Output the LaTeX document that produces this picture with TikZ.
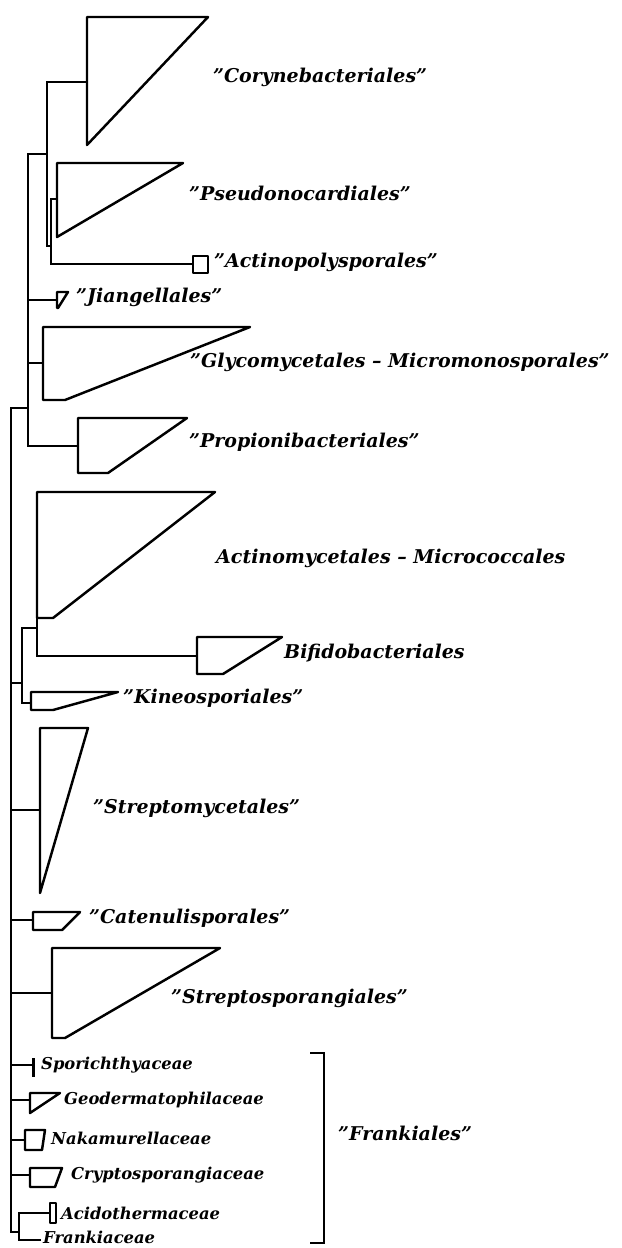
\documentclass[tikz,border=0pt]{standalone}
\usepackage{fontspec}
\setmainfont{DejaVu Serif}
% collapsed clade: left x, top y, bottom y, top right x, bottom right x
\newcommand\clade[5]{\draw[cladeshape] (#1,#2) -- (#4,#2) -- (#5,#3) -- (#1,#3) -- cycle;}

\begin{document}
\begin{tikzpicture}[x=0.02cm,y=-0.02cm,line width=1.4pt,line cap=rect]
  \tikzset{
    cladeshape/.style={draw, line join=round, line cap=butt},
    order/.style={anchor=west, inner sep=0pt, font=\bfseries\itshape\fontsize{10.8}{12}\selectfont},
    family/.style={anchor=west, inner sep=0pt, font=\bfseries\itshape\fontsize{9.3}{10}\selectfont}}
  \useasboundingbox (0,0) rectangle (622,1248);

  % Internal nodes (x of the vertical bar, y where it hangs from its parent).
  \coordinate (root) at (11,408);
  \coordinate (n1) at (28,408);
  \coordinate (n4) at (47,154);
  \coordinate (n5) at (51,246);
  \coordinate (n2) at (22,683);
  \coordinate (n6) at (37,628);
  \coordinate (n3) at (19,1232);

  % Where each clade hangs.
  \coordinate (cory) at (87,82);
  \coordinate (pseu) at (57,199);
  \coordinate (acpo) at (193,264);
  \coordinate (jian) at (57,300);
  \coordinate (glyc) at (43,363);
  \coordinate (prop) at (78,446);
  \coordinate (acmi) at (37,618);
  \coordinate (bifi) at (197,656);
  \coordinate (kine) at (31,703);
  \coordinate (stmy) at (40,810);
  \coordinate (cate) at (33,920);
  \coordinate (stsp) at (52,993);
  \coordinate (spor) at (33,1065);
  \coordinate (geod) at (30,1100);
  \coordinate (naka) at (25,1140);
  \coordinate (cryp) at (30,1175);
  \coordinate (acid) at (50,1213);
  \coordinate (fran) at (40,1240);

  % Branches.
  \foreach \c in {n1,n2,stmy,cate,stsp,spor,geod,naka,cryp,n3}
    \draw (root) |- (\c);
  \foreach \c in {n4,jian,glyc,prop}
    \draw (n1) |- (\c);
  \draw (n4) |- (cory);
  \draw (n4) |- (n5);
  \draw (n5) |- (pseu);
  \draw (n5) |- (acpo);
  \draw (n2) |- (n6);
  \draw (n2) |- (kine);
  \draw (n6) |- (acmi);
  \draw (n6) |- (bifi);
  \draw (n3) |- (acid);
  \draw (n3) |- (fran);

  % Collapsed clades.
  \clade{87}{17}{145}{208}{87}
  \clade{57}{163}{237}{183}{57}
  \clade{193}{256}{273}{208}{208}
  \clade{57}{292}{308}{68}{58}
  \clade{43}{327}{400}{250}{65}
  \clade{78}{418}{473}{187}{108}
  \clade{37}{492}{618}{215}{53}
  \clade{197}{637}{674}{282}{223}
  \clade{31}{692}{710}{118}{53}
  \clade{40}{728}{893}{88}{40}
  \clade{33}{912}{930}{80}{62}
  \clade{52}{948}{1038}{220}{65}
  \fill (31.5,1058) rectangle (35,1077);
  \clade{30}{1093}{1113}{60}{30}
  \clade{25}{1130}{1150}{45}{42}
  \clade{30}{1168}{1187}{62}{55}
  \clade{50}{1203}{1223}{56}{56}

  % Labels.
  \node[order] (lcory) at (212,77) {"Corynebacteriales"};
  \node[order] (lpseu) at (188,193) {"Pseudonocardiales"};
  \node[order] (lacpo) at (213,262) {"Actinopolysporales"};
  \node[order] (ljian) at (75,297) {"Jiangellales"};
  \node[order] (lglyc) at (189,362) {"Glycomycetales -- Micromonosporales"};
  \node[order] (lprop) at (188,442) {"Propionibacteriales"};
  \node[order] (lacmi) at (215,558) {Actinomycetales -- Micrococcales};
  \node[order] (lbifi) at (283,653) {Bifidobacteriales};
  \node[order] (lkine) at (122,698) {"Kineosporiales"};
  \node[order] (lstmy) at (92,808) {"Streptomycetales"};
  \node[order] (lcate) at (88,918) {"Catenulisporales"};
  \node[order] (lstsp) at (170,998) {"Streptosporangiales"};
  \node[family] (lspor) at (40,1065) {Sporichthyaceae};
  \node[family] (lgeod) at (63,1100) {Geodermatophilaceae};
  \node[family] (lnaka) at (50,1138) {Nakamurellaceae};
  \node[family] (lcryp) at (70,1175) {Cryptosporangiaceae};
  \node[family] (lacid) at (60,1213) {Acidothermaceae};
  \node[family] (lfran) at (42,1237) {Frankiaceae};

  % Bracket round the families.
  \draw[line cap=butt] (310,1053) -- (324,1053) -- (324,1243) -- (310,1243);
  \node[order] (lfrk) at (337,1133) {"Frankiales"};
\end{tikzpicture}
\end{document}
